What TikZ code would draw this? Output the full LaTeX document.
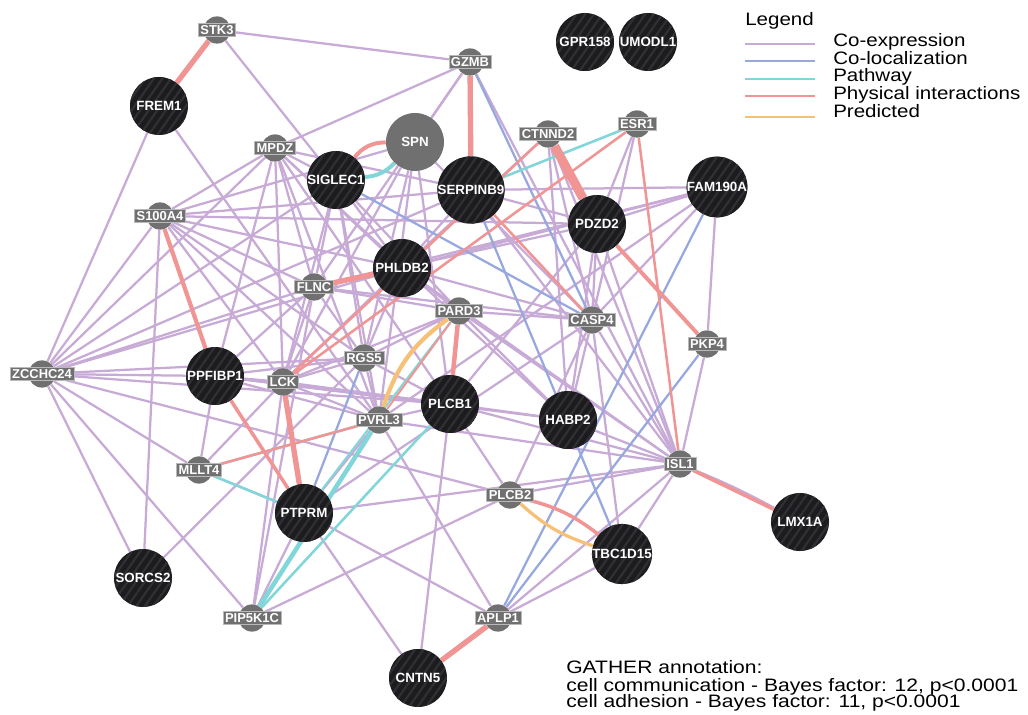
\documentclass[tikz,border=0pt]{standalone}
\usepackage{fontspec}
\usepackage{graphicx}
\setmainfont{Liberation Sans}
\usetikzlibrary{backgrounds,patterns.meta}

\definecolor{colCoexp}{RGB}{200,170,214}
\definecolor{colColoc}{RGB}{150,168,222}
\definecolor{colPath}{RGB}{128,214,216}
\definecolor{colPhys}{RGB}{240,148,148}
\definecolor{colPred}{RGB}{246,192,118}
\definecolor{nodeblack}{RGB}{28,28,30}
\definecolor{nodestripe}{RGB}{48,48,52}
\definecolor{nodegray}{RGB}{112,112,112}

\tikzset{
  big/.style={circle, fill=nodeblack, minimum size=1.45cm, inner sep=0pt,
    text=white, font=\bfseries\fontsize{9.5}{10}\selectfont,
    postaction={pattern={Lines[angle=55,distance=5pt,line width=1.6pt]}, pattern color=nodestripe}},
  biggray/.style={circle, fill=nodegray, minimum size=1.45cm, inner sep=0pt,
    text=white, font=\bfseries\fontsize{9.5}{10}\selectfont},
  small/.style={circle, fill=nodegray, minimum size=0.68cm, inner sep=0pt},
  tag/.style={rectangle, fill=nodegray, draw=gray!55, line width=0.3pt, inner sep=1.5pt,
    text=white, font=\bfseries\fontsize{9.2}{10}\selectfont},
  coexp/.style={draw=colCoexp, line width=1.6pt},
  coloc/.style={draw=colColoc, line width=1.6pt},
  pathw/.style={draw=colPath, line width=1.8pt},
  phys/.style={draw=colPhys, line width=1.8pt},
  pred/.style={draw=colPred, line width=2.5pt},
  legtext/.style={anchor=base west, inner sep=0pt, font=\fontsize{12.8}{13}\selectfont},
}

\begin{document}
\begin{tikzpicture}[x=0.025cm, y=-0.025cm]
  %%%%% START %%%%%
  \useasboundingbox (0,0) rectangle (1028,715);

  % query genes
  \node[big] (gpr) at (585,42) {GPR158};
  \node[big] (umodl) at (648,42) {UMODL1};
  \node[big] (frem) at (159,106) {FREM1};
  \node[biggray] (spn) at (415,142) {SPN};
  \node[big] (siglec) at (336,180) {SIGLEC1};
  \node[big] (serp) at (471,190) {SERPINB9};
  \node[big] (fam) at (717,187) {FAM190A};
  \node[big] (pdzd) at (597,224) {PDZD2};
  \node[big] (phldb) at (402,268) {PHLDB2};
  \node[big] (ppfibp) at (215,376) {PPFIBP1};
  \node[big] (plcb1) at (450,404) {PLCB1};
  \node[big] (habp) at (568,420) {HABP2};
  \node[big] (ptprm) at (304,513) {PTPRM};
  \node[big] (tbc) at (622,554) {TBC1D15};
  \node[big] (lmx) at (800,522) {LMX1A};
  \node[big] (sorcs) at (143,578) {SORCS2};
  \node[big] (cntn) at (418,678) {CNTN5};

  % related genes
  \node[small, label={[tag]center:STK3}] (stk) at (217,30) {};
  \node[small, label={[tag]center:GZMB}] (gzmb) at (470,62) {};
  \node[small, label={[tag]center:MPDZ}] (mpdz) at (275,148) {};
  \node[small, label={[tag]center:CTNND2}] (ctnnd) at (548,134) {};
  \node[small, label={[tag]center:ESR1}] (esr) at (637,124) {};
  \node[small, label={[tag]center:S100A4}] (s100) at (160,216) {};
  \node[small, label={[tag]center:FLNC}] (flnc) at (314,287) {};
  \node[small, label={[tag]center:PARD3}] (pard) at (459,311) {};
  \node[small, label={[tag]center:CASP4}] (casp) at (592,320) {};
  \node[small, label={[tag]center:PKP4}] (pkp) at (707,344) {};
  \node[small, label={[tag]center:ZCCHC24}] (zcchc) at (42,374) {};
  \node[small, label={[tag]center:RGS5}] (rgs) at (364,358) {};
  \node[small, label={[tag]center:LCK}] (lck) at (283,382) {};
  \node[small, label={[tag]center:PVRL3}] (pvrl) at (379,420) {};
  \node[small, label={[tag]center:ISL1}] (isl) at (680,464) {};
  \node[small, label={[tag]center:MLLT4}] (mllt) at (199,470) {};
  \node[small, label={[tag]center:PLCB2}] (plcb2) at (510,495) {};
  \node[small, label={[tag]center:PIP5K1C}] (pip) at (252,618) {};
  \node[small, label={[tag]center:APLP1}] (aplp) at (498,618) {};

  \begin{pgfonlayer}{background}
    \fill[white] (0,0) rectangle (1028,715);

    % co-expression
    \draw[coexp] (stk) -- (gzmb);
    \draw[coexp] (stk) -- (siglec);
    \draw[coexp] (frem) -- (zcchc);
    \draw[coexp] (frem) -- (pvrl);
    \draw[coexp] (gzmb) -- (mpdz);
    \draw[coexp] (gzmb) -- (flnc);
    \draw[coexp] (gzmb) -- (isl);
    \draw[coexp] (mpdz) -- (s100);
    \draw[coexp] (mpdz) -- (zcchc);
    \draw[coexp] (mpdz) -- (ppfibp);
    \draw[coexp] (mpdz) -- (siglec);
    \draw[coexp] (mpdz) -- (serp);
    \draw[coexp] (mpdz) -- (phldb);
    \draw[coexp] (mpdz) -- (lck);
    \draw[coexp] (mpdz) -- (pvrl);
    \draw[coexp] (mpdz) -- (plcb1);
    \draw[coexp] (mpdz) -- (flnc);
    \draw[coexp] (mpdz) -- (habp);
    \draw[coexp] (s100) -- (zcchc);
    \draw[coexp] (s100) -- (sorcs);
    \draw[coexp] (s100) -- (spn);
    \draw[coexp] (s100) -- (serp);
    \draw[coexp] (s100) -- (flnc);
    \draw[coexp] (s100) -- (lck);
    \draw[coexp] (s100) -- (rgs);
    \draw[coexp] (s100) -- (pvrl);
    \draw[coexp] (s100) -- (phldb);
    \draw[coexp] (s100) -- (pdzd);
    \draw[coexp] (zcchc) -- (siglec);
    \draw[coexp] (zcchc) -- (serp);
    \draw[coexp] (zcchc) -- (flnc);
    \draw[coexp] (zcchc) -- (phldb);
    \draw[coexp] (zcchc) -- (ppfibp);
    \draw[coexp] (zcchc) -- (plcb1);
    \draw[coexp] (zcchc) -- (rgs);
    \draw[coexp] (zcchc) -- (mllt);
    \draw[coexp] (zcchc) -- (plcb2);
    \draw[coexp] (zcchc) -- (pip);
    \draw[coexp] (zcchc) -- (sorcs);
    \draw[coexp] (siglec) -- (flnc);
    \draw[coexp] (siglec) -- (lck);
    \draw[coexp] (siglec) -- (pvrl);
    \draw[coexp] (siglec) -- (rgs);
    \draw[coexp] (siglec) -- (pard);
    \draw[coexp] (siglec) -- (phldb);
    \draw[coexp] (spn) -- (gzmb);
    \draw[coexp] (spn) -- (lck);
    \draw[coexp] (spn) -- (rgs);
    \draw[coexp] (spn) -- (pvrl);
    \draw[coexp] (spn) -- (casp);
    \draw[coexp] (spn) -- (plcb1);
    \draw[coexp] (serp) -- (pdzd);
    \draw[coexp] (serp) -- (fam);
    \draw[coexp] (serp) -- (isl);
    \draw[coexp] (serp) -- (phldb);
    \draw[coexp] (ctnnd) -- (casp);
    \draw[coexp] (ctnnd) -- (phldb);
    \draw[coexp] (ctnnd) -- (isl);
    \draw[coexp] (ctnnd) -- (habp);
    \draw[coexp] (esr) -- (pdzd);
    \draw[coexp] (esr) -- (casp);
    \draw[coexp] (fam) -- (pdzd);
    \draw[coexp] (fam) -- (casp);
    \draw[coexp] (fam) -- (pkp);
    \draw[coexp] (fam) -- (flnc);
    \draw[coexp] (fam) -- (phldb);
    \draw[coexp] (fam) -- (pvrl);
    \draw[coexp] (pdzd) -- (casp);
    \draw[coexp] (pdzd) -- (isl);
    \draw[coexp] (pdzd) -- (habp);
    \draw[coexp] (pdzd) -- (flnc);
    \draw[coexp] (pdzd) -- (plcb1);
    \draw[coexp] (phldb) -- (pard);
    \draw[coexp] (phldb) -- (casp);
    \draw[coexp] (phldb) -- (isl);
    \draw[coexp] (phldb) -- (lck);
    \draw[coexp] (phldb) -- (rgs);
    \draw[coexp] (flnc) -- (lck);
    \draw[coexp] (flnc) -- (pard);
    \draw[coexp] (flnc) -- (ppfibp);
    \draw[coexp] (flnc) -- (casp);
    \draw[coexp] (flnc) -- (pip);
    \draw[coexp] (flnc) -- (rgs);
    \draw[coexp] (pard) -- (lck);
    \draw[coexp] (pard) -- (rgs);
    \draw[coexp] (pard) -- (isl);
    \draw[coexp] (pard) -- (habp);
    \draw[coexp] (pard) -- (casp);
    \draw[coexp] (casp) -- (habp);
    \draw[coexp] (casp) -- (isl);
    \draw[coexp] (casp) -- (plcb2);
    \draw[coexp] (casp) -- (tbc);
    \draw[coexp] (casp) -- (ptprm);
    \draw[coexp] (pkp) -- (isl);
    \draw[coexp] (ppfibp) -- (lck);
    \draw[coexp] (ppfibp) -- (rgs);
    \draw[coexp] (ppfibp) -- (pvrl);
    \draw[coexp] (ppfibp) -- (plcb1);
    \draw[coexp] (ppfibp) -- (habp);
    \draw[coexp] (ppfibp) -- (mllt);
    \draw[coexp] (rgs) -- (lck);
    \draw[coexp] (rgs) -- (pvrl);
    \draw[coexp] (rgs) -- (plcb1);
    \draw[coexp] (rgs) -- (sorcs);
    \draw[coexp] (lck) -- (pvrl);
    \draw[coexp] (lck) -- (plcb1);
    \draw[coexp] (lck) -- (mllt);
    \draw[coexp] (lck) -- (pip);
    \draw[coexp] (pvrl) -- (plcb1);
    \draw[coexp] (pvrl) -- (ptprm);
    \draw[coexp] (pvrl) -- (isl);
    \draw[coexp] (pvrl) -- (aplp);
    \draw[coexp] (plcb1) -- (habp);
    \draw[coexp] (plcb1) -- (isl);
    \draw[coexp] (plcb1) -- (cntn);
    \draw[coexp] (plcb1) -- (plcb2);
    \draw[coexp] (habp) -- (isl);
    \draw[coexp] (isl) -- (tbc);
    \draw[coexp] (isl) to[bend left=3] (lmx);
    \draw[coexp] (isl) -- (aplp);
    \draw[coexp] (isl) -- (plcb2);
    \draw[coexp] (isl) -- (ptprm);
    \draw[coexp] (mllt) -- (ptprm);
    \draw[coexp] (ptprm) -- (pip);
    \draw[coexp] (ptprm) -- (cntn);
    \draw[coexp] (ptprm) -- (aplp);
    \draw[coexp] (plcb2) -- (pip);
    \draw[coexp] (aplp) -- (tbc);

    % co-localization
    \draw[coloc] (gzmb) -- (casp);
    \draw[coloc] (siglec) -- (casp);
    \draw[coloc] (serp) -- (tbc);
    \draw[coloc] (pkp) -- (aplp);
    \draw[coloc] (fam) -- (aplp);
    \draw[coloc] (rgs) -- (ptprm);

    % pathway
    \draw[pathw, line width=2.8pt] (siglec) to[bend right=20] (spn);
    \draw[pathw] (esr) -- (serp);
    \draw[pathw, line width=3.2pt] (pvrl) -- (pip);
    \draw[pathw] (pip) -- (plcb1);
    \draw[pathw] (mllt) -- (pvrl);
    \draw[pathw] (mllt) -- (ptprm);
    \draw[pathw, line width=1.4pt] (pard) -- (ptprm);

    % physical interactions
    \draw[phys, line width=3.8pt] (stk) -- (frem);
    \draw[phys, line width=3.8pt] (gzmb) -- (serp);
    \draw[phys, line width=2.8pt] (siglec) to[bend left=25] (spn);
    \draw[phys, line width=6.5pt] (ctnnd) -- (pdzd);
    \draw[phys, line width=2.8pt] (pdzd) -- (pkp);
    \draw[phys, line width=3pt] (s100) -- (ppfibp);
    \draw[phys, line width=3.8pt] (flnc) -- (phldb);
    \draw[phys, line width=3.2pt] (pard) -- (plcb1);
    \draw[phys, line width=3.8pt] (lck) -- (ptprm);
    \draw[phys, line width=2.5pt] (ppfibp) -- (ptprm);
    \draw[phys] (mllt) -- (pvrl);
    \draw[phys] (esr) -- (isl);
    \draw[phys] (esr) -- (lck);
    \draw[phys] (ctnnd) -- (lck);
    \draw[phys] (serp) -- (casp);
    \draw[phys, line width=1.4pt] (pvrl) -- (pard);
    \draw[phys, line width=2.5pt] (plcb2) to[bend left=12] (tbc);
    \draw[phys, line width=3.8pt] (aplp) -- (cntn);
    \draw[phys, line width=2.5pt] (isl) -- (lmx);

    % predicted
    \draw[pred, line width=3pt] (pvrl) to[bend left=18] (pard);
    \draw[pred, line width=2.3pt] (plcb2) to[bend right=12] (tbc);
  \end{pgfonlayer}

  % legend
  \node[legtext] (legtitle) at (745,26) {\scalebox{1.14}[1]{Legend}};
  \draw[colCoexp, line width=1.5pt] (745,44) -- (815,44);
  \draw[colColoc, line width=1.5pt] (745,61) -- (815,61);
  \draw[colPath, line width=1.5pt] (745,79) -- (815,79);
  \draw[colPhys, line width=1.5pt] (745,96) -- (815,96);
  \draw[colPred, line width=1.5pt] (745,117) -- (815,117);
  \node[legtext] (lcoexp) at (833,47) {\scalebox{1.14}[1]{Co-expression}};
  \node[legtext] (lcoloc) at (833,65) {\scalebox{1.14}[1]{Co-localization}};
  \node[legtext] (lpath) at (833,82) {\scalebox{1.14}[1]{Pathway}};
  \node[legtext] (lphys) at (833,100) {\scalebox{1.14}[1]{Physical interactions}};
  \node[legtext] (lpred) at (833,118) {\scalebox{1.14}[1]{Predicted}};

  % annotation
  \node[legtext] (gather) at (566,673) {\scalebox{1.17}[1]{GATHER annotation:}};
  \node[legtext] (gcomm) at (566,691) {\scalebox{1.17}[1]{cell communication - Bayes factor: 12, p<0.0001}};
  \node[legtext] (gadh) at (566,707) {\scalebox{1.17}[1]{cell adhesion - Bayes factor: 11, p<0.0001}};

  %%%%% END %%%%%
\end{tikzpicture}
\end{document}
